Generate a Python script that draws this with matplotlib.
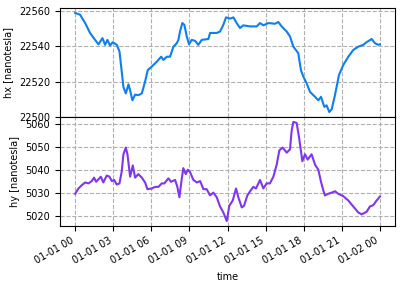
import numpy as np
import pandas as pd
import matplotlib
matplotlib.use("Agg")
import matplotlib.pyplot as plt
import matplotlib.dates as mdates

# ====== DONNEES ======
hx_hours = [0.0, 0.39, 0.79, 1.18, 1.57, 1.84, 2.15, 2.36, 2.54, 2.75, 2.96, 3.28,
            3.49, 3.67, 3.8, 3.99, 4.2, 4.33, 4.51, 4.72, 4.98, 5.25, 5.51, 5.72,
            6.03, 6.43, 6.77, 6.95, 7.22, 7.47, 7.74, 8.0, 8.13, 8.26, 8.44, 8.6,
            8.79, 8.97, 9.18, 9.44, 9.7, 9.97, 10.49, 10.62, 11.15, 11.41, 11.67,
            11.88, 12.2, 12.46, 12.72, 12.98, 13.24, 13.77, 14.3, 14.56, 14.82,
            15.21, 15.74, 16.0, 16.26, 16.66, 16.92, 17.18, 17.57, 17.78, 17.97,
            18.23, 18.49, 18.89, 19.15, 19.36, 19.62, 19.8, 20.01, 20.2, 20.46,
            20.77, 21.11, 21.51, 21.9, 22.3, 22.69, 22.95, 23.35, 23.61, 23.87, 24.0]
hx_values = [22558.7, 22557.7, 22553.0, 22547.3, 22543.5, 22541.0, 22544.5, 22540.7,
             22543.5, 22540.3, 22542.2, 22540.7, 22537.0, 22525.6, 22517.0, 22513.3,
             22518.4, 22515.0, 22509.4, 22512.6, 22512.3, 22513.3, 22520.0, 22526.5,
             22528.4, 22531.2, 22534.0, 22532.2, 22534.0, 22534.0, 22539.7, 22541.6,
             22543.5, 22548.2, 22553.0, 22552.0, 22545.4, 22541.0, 22543.5, 22543.0,
             22540.7, 22543.5, 22544.0, 22547.4, 22547.4, 22548.2, 22552.0, 22556.2,
             22555.5, 22556.2, 22553.0, 22550.2, 22551.7, 22551.1, 22551.1, 22553.0,
             22551.7, 22553.0, 22552.6, 22553.6, 22551.1, 22548.2, 22545.4, 22539.7,
             22536.0, 22526.5, 22522.7, 22519.0, 22514.2, 22511.4, 22509.4, 22511.4,
             22505.7, 22506.6, 22502.8, 22504.3, 22512.3, 22523.6, 22529.3, 22534.0,
             22537.8, 22539.7, 22540.7, 22542.2, 22544.0, 22541.6, 22540.7, 22541.0]

hy_hours = [0.0, 0.26, 0.52, 0.79, 1.05, 1.31, 1.49, 1.65, 1.91, 2.02, 2.22, 2.49,
            2.7, 2.89, 3.07, 3.28, 3.49, 3.67, 3.8, 3.99, 4.12, 4.33, 4.54, 4.72,
            4.98, 5.25, 5.51, 5.69, 6.03, 6.3, 6.56, 6.82, 7.03, 7.34, 7.55, 7.87,
            8.05, 8.21, 8.4, 8.52, 8.71, 8.87, 9.05, 9.31, 9.58, 9.84, 10.1, 10.36,
            10.62, 10.88, 11.15, 11.41, 11.67, 11.94, 12.14, 12.41, 12.67, 12.85,
            13.12, 13.3, 13.56, 13.83, 14.03, 14.24, 14.56, 14.82, 15.08, 15.34,
            15.61, 15.87, 16.08, 16.34, 16.66, 16.92, 17.05, 17.18, 17.44, 17.63,
            17.89, 18.1, 18.31, 18.62, 18.89, 19.15, 19.36, 19.54, 19.67, 19.93,
            20.2, 20.46, 20.72, 21.11, 21.51, 21.9, 22.3, 22.56, 22.95, 23.21,
            23.48, 23.74, 24.0]
hy_values = [5029.6, 5031.9, 5033.3, 5034.5, 5034.1, 5035.1, 5036.6, 5034.8, 5036.3,
             5037.0, 5034.5, 5037.5, 5037.0, 5035.1, 5035.6, 5033.6, 5034.1, 5039.3,
             5046.7, 5049.6, 5046.7, 5037.0, 5041.9, 5036.6, 5038.1, 5036.6, 5034.5,
             5031.6, 5031.9, 5032.6, 5032.6, 5034.1, 5034.1, 5036.3, 5034.8, 5035.6,
             5032.6, 5028.1, 5036.3, 5040.7, 5038.1, 5040.0, 5039.0, 5035.6, 5034.5,
             5035.1, 5031.6, 5031.6, 5028.9, 5030.1, 5028.1, 5024.1, 5021.5, 5017.8,
             5024.4, 5026.7, 5031.9, 5028.1, 5023.7, 5024.4, 5028.9, 5031.1, 5032.6,
             5031.9, 5035.6, 5031.9, 5034.1, 5034.1, 5037.0, 5042.2, 5048.4, 5049.6,
             5047.4, 5048.9, 5057.0, 5060.7, 5060.3, 5054.1, 5043.7, 5046.7, 5044.4,
             5046.7, 5042.2, 5040.0, 5034.8, 5031.1, 5028.9, 5029.6, 5030.1, 5030.7,
             5029.6, 5028.6, 5026.7, 5024.1, 5021.5, 5020.7, 5021.8, 5024.1, 5024.7,
             5026.7, 5028.4]

start = pd.Timestamp("2000-01-01 00:00")
hx_time = (start + pd.to_timedelta(hx_hours, unit="h")).to_pydatetime()
hy_time = (start + pd.to_timedelta(hy_hours, unit="h")).to_pydatetime()

# ====== GRAPHIQUE ======
plt.rcParams['font.size'] = 7

fig, (ax1, ax2) = plt.subplots(2, 1, sharex=True, figsize=(4.02, 2.85), dpi=100)
fig.subplots_adjust(left=0.149, right=0.983, top=0.972, bottom=0.207, hspace=0)

ax1.plot(hx_time, hx_values, color='#0c7ff2', linewidth=1.5)
ax2.plot(hy_time, hy_values, color='#7f35f2', linewidth=1.5)

ax1.set_ylabel('hx [nanotesla]')
ax2.set_ylabel('hy [nanotesla]')
ax2.set_xlabel('time')

ax1.set_yticks([22500, 22520, 22540, 22560])
ax2.set_yticks([5020, 5030, 5040, 5050, 5060])

for ax in (ax1, ax2):
    ax.grid(True, linestyle='--', color='#b0b0b0', linewidth=0.8)

ax2.xaxis.set_major_locator(mdates.HourLocator(byhour=range(0, 24, 3)))
ax2.xaxis.set_major_formatter(mdates.DateFormatter('%m-%d %H'))
for lbl in ax2.get_xticklabels():
    lbl.set_rotation(30)
    lbl.set_ha('right')
ax1.tick_params(labelbottom=False)

plt.savefig('out.png', dpi=100)
